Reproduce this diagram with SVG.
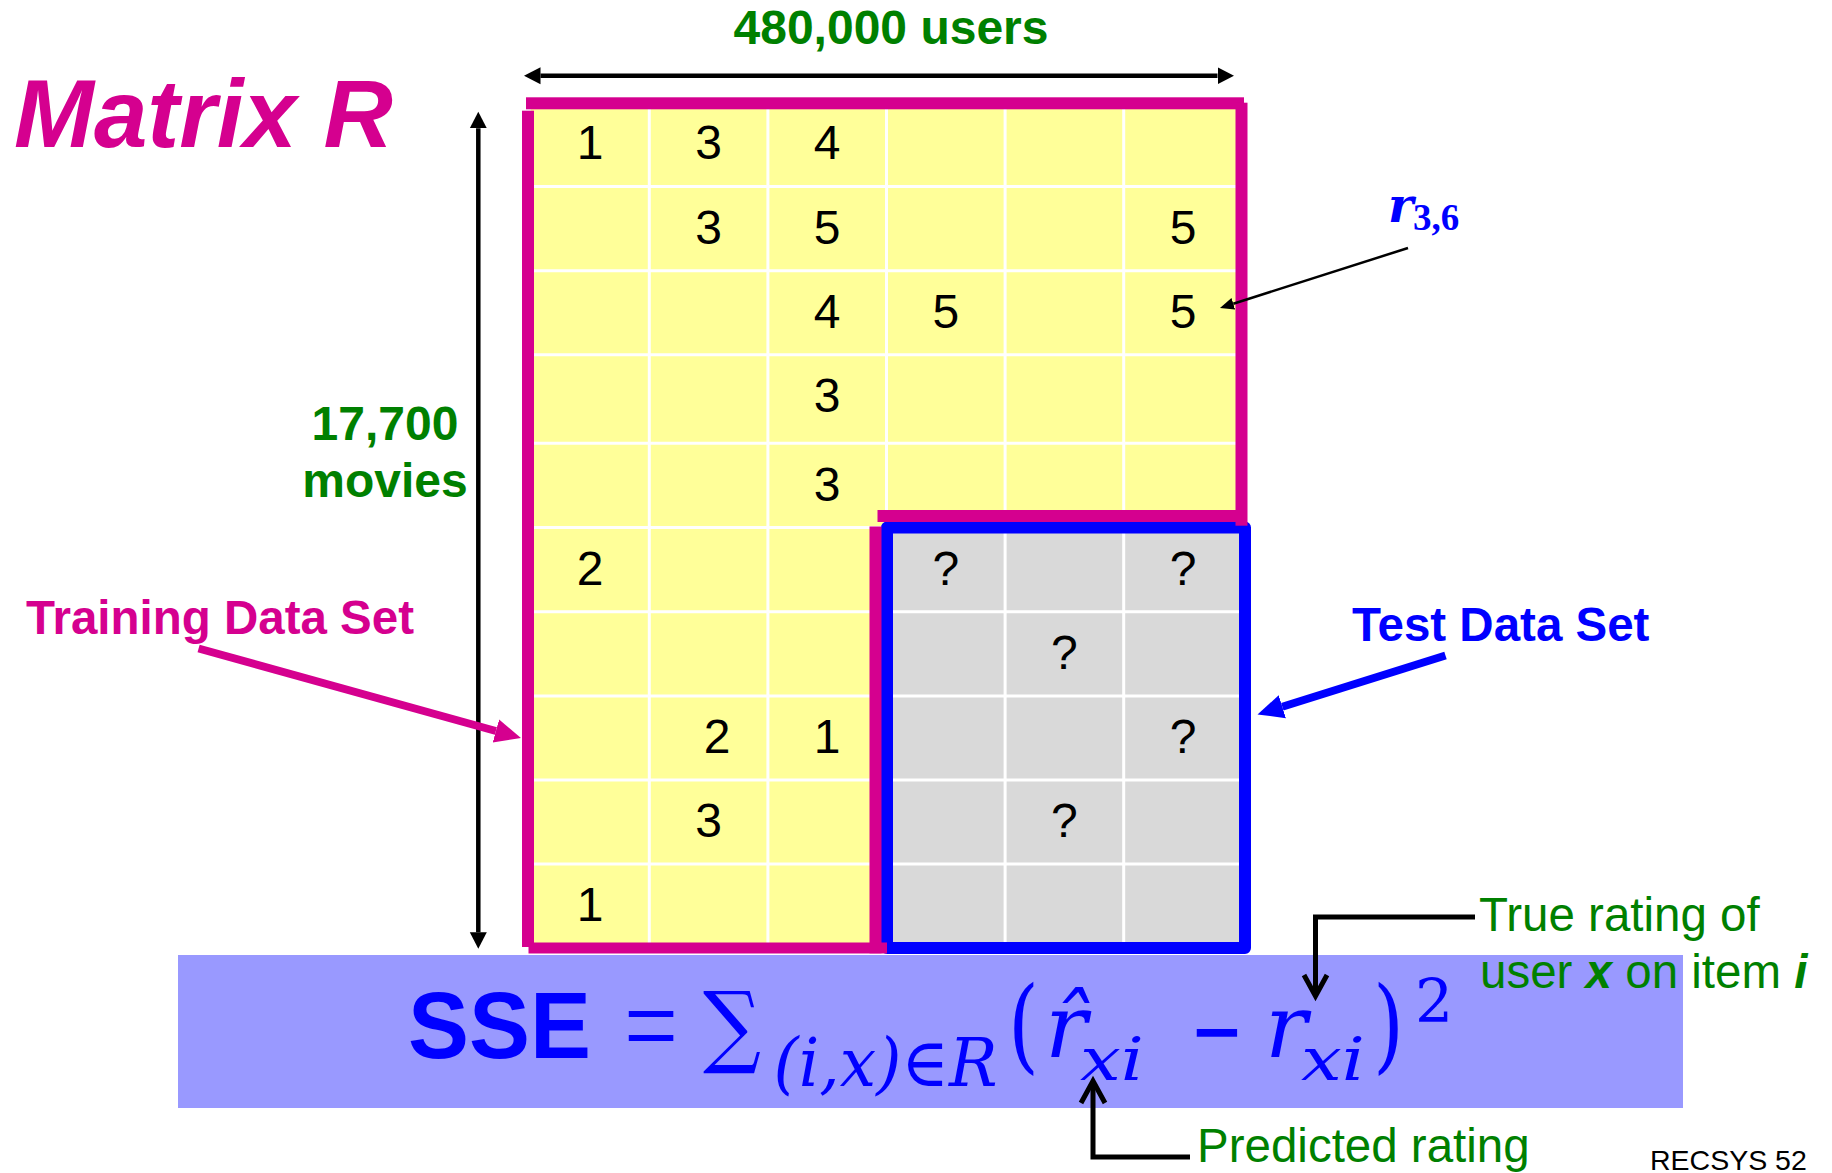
<svg xmlns="http://www.w3.org/2000/svg" width="1832" height="1173" viewBox="0 0 1832 1173">
<style>
.num{font-family:'Liberation Sans',Arial,sans-serif;font-size:48px;text-anchor:middle;fill:#000}
.b{font-family:'Liberation Sans',Arial,sans-serif;font-weight:bold;font-size:47.5px}
.r{font-family:'Liberation Sans',Arial,sans-serif;font-size:47.5px;fill:#008000}
.g{fill:#008000}
.mg{fill:#D5008F}
.bl{fill:#0000FF}
.m{font-family:'DejaVu Serif','Liberation Serif',serif;font-style:italic;fill:#0000FF}
.mu{font-family:'DejaVu Serif','DejaVu Sans',serif;fill:#0000FF}
.grid{stroke:#FFFFFF;stroke-width:3}
</style>
<defs>
<marker id="hk" viewBox="0 -9 17 18" refX="0" refY="0" markerWidth="17" markerHeight="18" markerUnits="userSpaceOnUse" orient="auto-start-reverse"><path d="M0,-8.5 L16.5,0 L0,8.5 z" fill="#000"/></marker>
<marker id="hs" viewBox="0 -7 15 14" refX="0" refY="0" markerWidth="15" markerHeight="14" markerUnits="userSpaceOnUse" orient="auto"><path d="M0,-6 L14,0 L0,6 z" fill="#000"/></marker>
<marker id="hm" viewBox="0 -13 27 26" refX="0" refY="0" markerWidth="27" markerHeight="26" markerUnits="userSpaceOnUse" orient="auto"><path d="M0,-12 L26,0 L0,12 z" fill="#D5008F"/></marker>
<marker id="hb" viewBox="0 -13 27 26" refX="0" refY="0" markerWidth="27" markerHeight="26" markerUnits="userSpaceOnUse" orient="auto"><path d="M0,-12 L26,0 L0,12 z" fill="#0000FF"/></marker>
</defs>

<g id="matrix">
<rect x="530.7" y="102" width="711.6" height="841" fill="#FFFF99"/>
<rect x="886.5" y="527.5" width="355.8" height="415.5" fill="#D9D9D9"/>
<g class="grid">
<line x1="649.3" y1="102" x2="649.3" y2="943"/>
<line x1="767.9" y1="102" x2="767.9" y2="943"/>
<line x1="886.5" y1="102" x2="886.5" y2="943"/>
<line x1="1005.1" y1="102" x2="1005.1" y2="943"/>
<line x1="1123.7" y1="102" x2="1123.7" y2="943"/>
<line x1="530.7" y1="186.5" x2="1242.3" y2="186.5"/>
<line x1="530.7" y1="270.7" x2="1242.3" y2="270.7"/>
<line x1="530.7" y1="354.7" x2="1242.3" y2="354.7"/>
<line x1="530.7" y1="443.3" x2="1242.3" y2="443.3"/>
<line x1="530.7" y1="527.5" x2="1242.3" y2="527.5"/>
<line x1="530.7" y1="611.7" x2="1242.3" y2="611.7"/>
<line x1="530.7" y1="696" x2="1242.3" y2="696"/>
<line x1="530.7" y1="780" x2="1242.3" y2="780"/>
<line x1="530.7" y1="864" x2="1242.3" y2="864"/>
</g>
<g id="cells">
<text class="num" x="590" y="159">1</text>
<text class="num" x="708.6" y="159">3</text>
<text class="num" x="827.2" y="159">4</text>
<text class="num" x="708.6" y="243.5">3</text>
<text class="num" x="827.2" y="243.5">5</text>
<text class="num" x="1183" y="243.5">5</text>
<text class="num" x="827.2" y="327.5">4</text>
<text class="num" x="945.8" y="327.5">5</text>
<text class="num" x="1183" y="327.5">5</text>
<text class="num" x="827.2" y="412">3</text>
<text class="num" x="827.2" y="500.5">3</text>
<text class="num" x="590" y="585">2</text>
<text class="num" x="945.8" y="585">?</text>
<text class="num" x="1183" y="585">?</text>
<text class="num" x="1064.4" y="669">?</text>
<text class="num" x="717" y="753">2</text>
<text class="num" x="827.2" y="753">1</text>
<text class="num" x="1183" y="753">?</text>
<text class="num" x="708.6" y="837">3</text>
<text class="num" x="1064.4" y="837">?</text>
<text class="num" x="590" y="921">1</text>
</g>
<rect x="887" y="527.5" width="358" height="420.5" fill="none" stroke="#0000FF" stroke-width="12" stroke-linejoin="round"/>
<g class="mg">
<rect x="526" y="97.3" width="718" height="12"/>
<rect x="522" y="110.7" width="12" height="836.3"/>
<rect x="1235.5" y="102.7" width="12" height="423"/>
<rect x="877.5" y="510" width="362" height="12"/>
<rect x="869.5" y="526.5" width="12" height="426.8"/>
<rect x="528.5" y="942.5" width="358.5" height="11"/>
</g>
</g>

<g id="formula">
<rect x="178" y="955" width="1505" height="153" fill="#9999FF"/>
<text x="408" y="1058" font-family="'Liberation Sans',Arial,sans-serif" font-weight="bold" font-size="94" textLength="183" lengthAdjust="spacingAndGlyphs" class="bl">SSE</text>
<text x="624" y="1066" font-family="'Liberation Serif',serif" font-size="120" textLength="54" lengthAdjust="spacingAndGlyphs" class="bl">=</text>
<text class="mu" x="703" y="1056" font-size="90" textLength="58" lengthAdjust="spacingAndGlyphs">∑</text>
<text class="m" x="773.6" y="1086" font-size="68" textLength="224" lengthAdjust="spacingAndGlyphs">(i,x)∈R</text>
<text class="mu" x="1008" y="1060" font-size="102" textLength="31" lengthAdjust="spacingAndGlyphs">(</text>
<text class="m" x="1045" y="1057" font-size="88">r̂</text>
<text class="m" x="1080" y="1080" font-size="60" textLength="64" lengthAdjust="spacingAndGlyphs">xi</text>
<text class="mu" x="1190" y="1064" font-size="100" textLength="54" lengthAdjust="spacingAndGlyphs">−</text>
<text class="m" x="1265" y="1057" font-size="88">r</text>
<text class="m" x="1301" y="1080" font-size="60" textLength="64" lengthAdjust="spacingAndGlyphs">xi</text>
<text class="mu" x="1373" y="1060" font-size="102" textLength="31" lengthAdjust="spacingAndGlyphs">)</text>
<text class="mu" x="1415" y="1022" font-size="60">2</text>
</g>

<g id="labels">
<text id="title" x="14" y="147" font-family="'Liberation Sans',Arial,sans-serif" font-weight="bold" font-style="italic" font-size="96" class="mg">Matrix R</text>
<text id="users" class="b g" x="891" y="44" text-anchor="middle" style="font-size:48px">480,000 users</text>
<text id="movies" class="b g" x="385" y="440" text-anchor="middle" style="font-size:48px">17,700<tspan x="385" y="497">movies</tspan></text>
<text id="training" class="b mg" x="26" y="634">Training Data Set</text>
<text id="test" class="b bl" x="1352" y="641">Test Data Set</text>
<text id="r36" x="1388" y="221.7" font-family="'DejaVu Serif','Liberation Serif',serif" font-weight="bold" font-style="italic" font-size="48" class="bl">r<tspan x="1413" y="230" font-family="'Liberation Serif',serif" font-style="normal" font-size="37">3,6</tspan></text>
<text id="truerating" class="r" x="1479" y="931">True rating of</text>
<text id="useritem" class="r" x="1480" y="988">user <tspan font-weight="bold" font-style="italic">x</tspan> on item <tspan font-weight="bold" font-style="italic">i</tspan></text>
<text id="predicted" class="r" x="1197" y="1162">Predicted rating</text>
<text id="page" x="1650" y="1170" font-family="'Liberation Sans',Arial,sans-serif" font-size="28.5" fill="#000">RECSYS 52</text>
</g>

<g id="connectors" fill="none">
<line x1="540.5" y1="75.7" x2="1217.5" y2="75.7" stroke="#000" stroke-width="4.5" marker-start="url(#hk)" marker-end="url(#hk)"/>
<line x1="478.3" y1="128.2" x2="478.3" y2="932.2" stroke="#000" stroke-width="4.5" marker-start="url(#hk)" marker-end="url(#hk)"/>
<line x1="1408" y1="248" x2="1233.3" y2="303.7" stroke="#000" stroke-width="2.5" marker-end="url(#hs)"/>
<line x1="198.6" y1="648.5" x2="495.9" y2="731" stroke="#D5008F" stroke-width="8" marker-end="url(#hm)"/>
<line x1="1445.5" y1="655.5" x2="1282.3" y2="706.7" stroke="#0000FF" stroke-width="8" marker-end="url(#hb)"/>
<path d="M1475,917 H1315.5 V995" stroke="#000" stroke-width="5"/>
<path d="M1304,975 L1315.5,996 L1327,975" stroke="#000" stroke-width="5"/>
<path d="M1190,1157 H1093 V1082" stroke="#000" stroke-width="5"/>
<path d="M1081,1103 L1093,1081 L1105,1103" stroke="#000" stroke-width="5"/>
</g>
</svg>
